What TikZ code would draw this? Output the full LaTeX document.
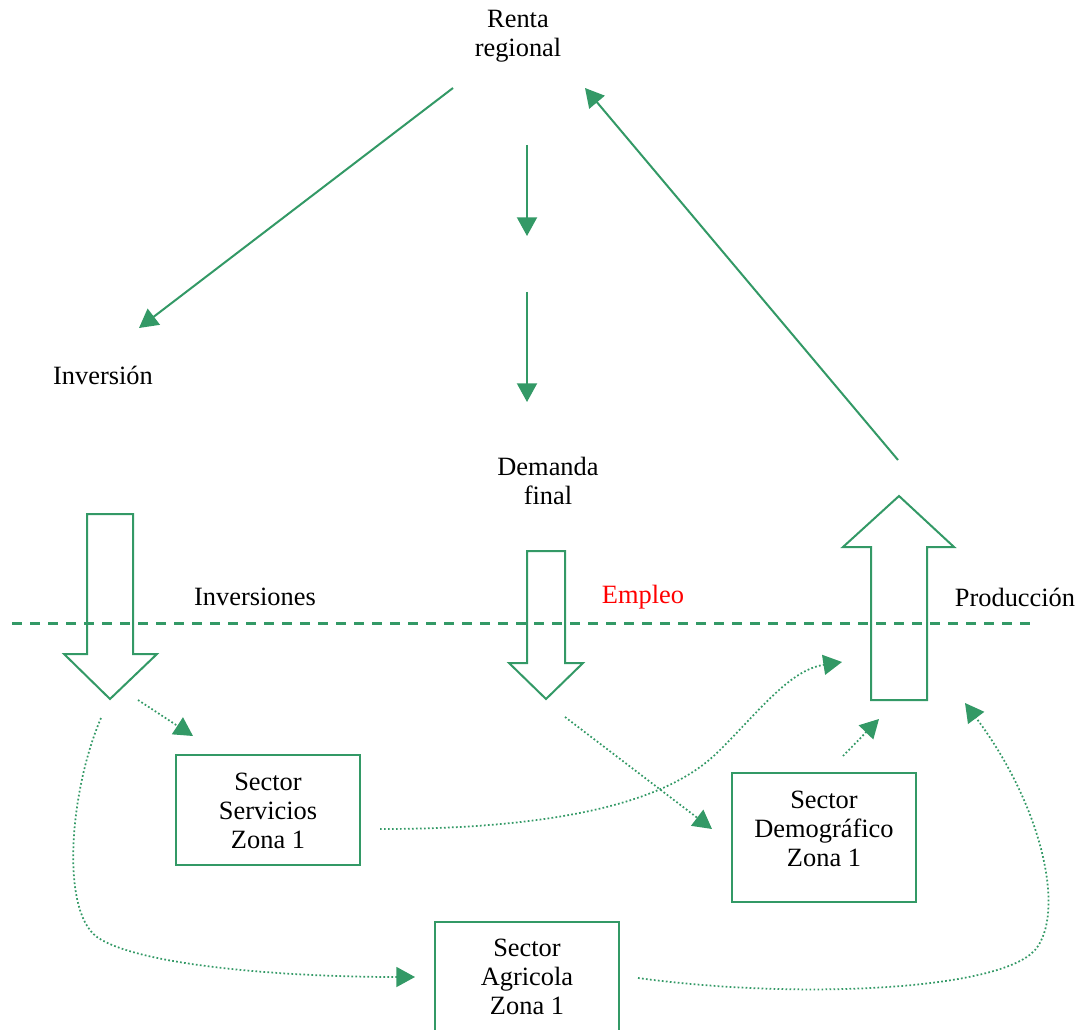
\documentclass[tikz,border=0pt]{standalone}
\usepackage{fontspec}
\setmainfont{Liberation Serif}
\usetikzlibrary{arrows.meta}
\definecolor{flow}{RGB}{51,153,102}
\begin{document}
\begin{tikzpicture}[x=0.75pt,y=-0.75pt,
  every node/.style={font=\fontsize{19.8}{21.75}\selectfont, inner sep=0pt, align=center},
  sectorbox/.style={draw=flow, line width=1.5pt, minimum width=138pt},
  flowarrow/.style={draw=flow, line width=1.5pt, -{Triangle[length=14pt,width=15pt]}},
  dotarrow/.style={draw=flow, line width=1.3pt, dash pattern=on 1.3pt off 1.7pt, -{Triangle[length=14pt,width=15pt]}},
  bigarrow/.style={draw=flow, line width=1.5pt, line join=miter},
  divider/.style={draw=flow, line width=2.25pt, dash pattern=on 7.5pt off 6pt}
]
\useasboundingbox (0,0) rectangle (1085,1030);
\clip (0,0) rectangle (1085,1030);

% labels
\node (renta) at (518,36.5) {Renta\\regional};
\node (inversion) at (103,375) {Inversión};
\node (demanda) at (548,480.5) {Demanda\\final};
\node (inversiones) at (255,597) {Inversiones};
\node[text=red] (empleo) at (643,597) {Empleo};
\node (produccion) at (1015,597) {Producción};

% sector boxes
\node[sectorbox, minimum height=82.5pt] (servicios) at (268,810) {};
\node (servicios-t) at (268,810.5) {Sector\\Servicios\\Zona 1};
\node[sectorbox, minimum height=96.75pt] (demografico) at (824,837.5) {};
\node (demografico-t) at (824,829) {Sector\\Demográfico\\Zona 1};
\node[sectorbox, minimum height=82.5pt] (agricola) at (527,977) {};
\node (agricola-t) at (527,977) {Sector\\Agricola\\Zona 1};

% dashed divider
\coordinate (divL) at (12,623);
\coordinate (divR) at (1030,623);
\draw[divider] (divL) -- (divR);

% block arrows
\draw[bigarrow] (87,514) -- (133,514) -- (133,654) -- (157,654) -- (110,699) -- (64,654) -- (87,654) -- cycle;
\draw[bigarrow] (527,551) -- (565,551) -- (565,663) -- (583,663) -- (546,699) -- (509,663) -- (527,663) -- cycle;
\draw[bigarrow] (871,700) -- (927,700) -- (927,547) -- (954,547) -- (899,496) -- (843,547) -- (871,547) -- cycle;

% connector end points
\coordinate (r-out) at (453,88);
\coordinate (inv-in) at (139,328);
\coordinate (r-down1) at (527,145);
\coordinate (r-down1e) at (527,236);
\coordinate (r-down2) at (527,292);
\coordinate (d-in) at (527,402);
\coordinate (p-out) at (898,460);
\coordinate (r-in) at (585,88);
\coordinate (invtip-a) at (138,700);
\coordinate (serv-in) at (193,736);
\coordinate (demtip) at (565,717);
\coordinate (dem-in) at (712,829);
\coordinate (dem-out) at (843,756);
\coordinate (prod-in1) at (879,719);
\coordinate (serv-out) at (380,829);
\coordinate (prod-in2) at (842,662);
\coordinate (invtip-b) at (101,718);
\coordinate (agr-in) at (415,977);
\coordinate (agr-out) at (638,978);
\coordinate (prod-in3) at (965,703);

% solid flows
\draw[flowarrow] (r-out) -- (inv-in);
\draw[flowarrow] (r-down1) -- (r-down1e);
\draw[flowarrow] (r-down2) -- (d-in);
\draw[flowarrow] (p-out) -- (r-in);

% dotted flows
\draw[dotarrow] (invtip-a) -- (serv-in);
\draw[dotarrow] (demtip) -- (dem-in);
\draw[dotarrow] (dem-out) -- (prod-in1);
\draw[dotarrow] (serv-out) .. controls (620,829) and (690,780) .. (720,750)
  .. controls (760,710) and (790,670) .. (prod-in2);
\draw[dotarrow] (invtip-b) .. controls (70,790) and (60,910) .. (97,937)
  .. controls (137,965) and (280,977) .. (agr-in);
\draw[dotarrow] (agr-out) .. controls (800,1000) and (1000,990) .. (1035,950)
  .. controls (1065,915) and (1045,810) .. (prod-in3);
\end{tikzpicture}
\end{document}
